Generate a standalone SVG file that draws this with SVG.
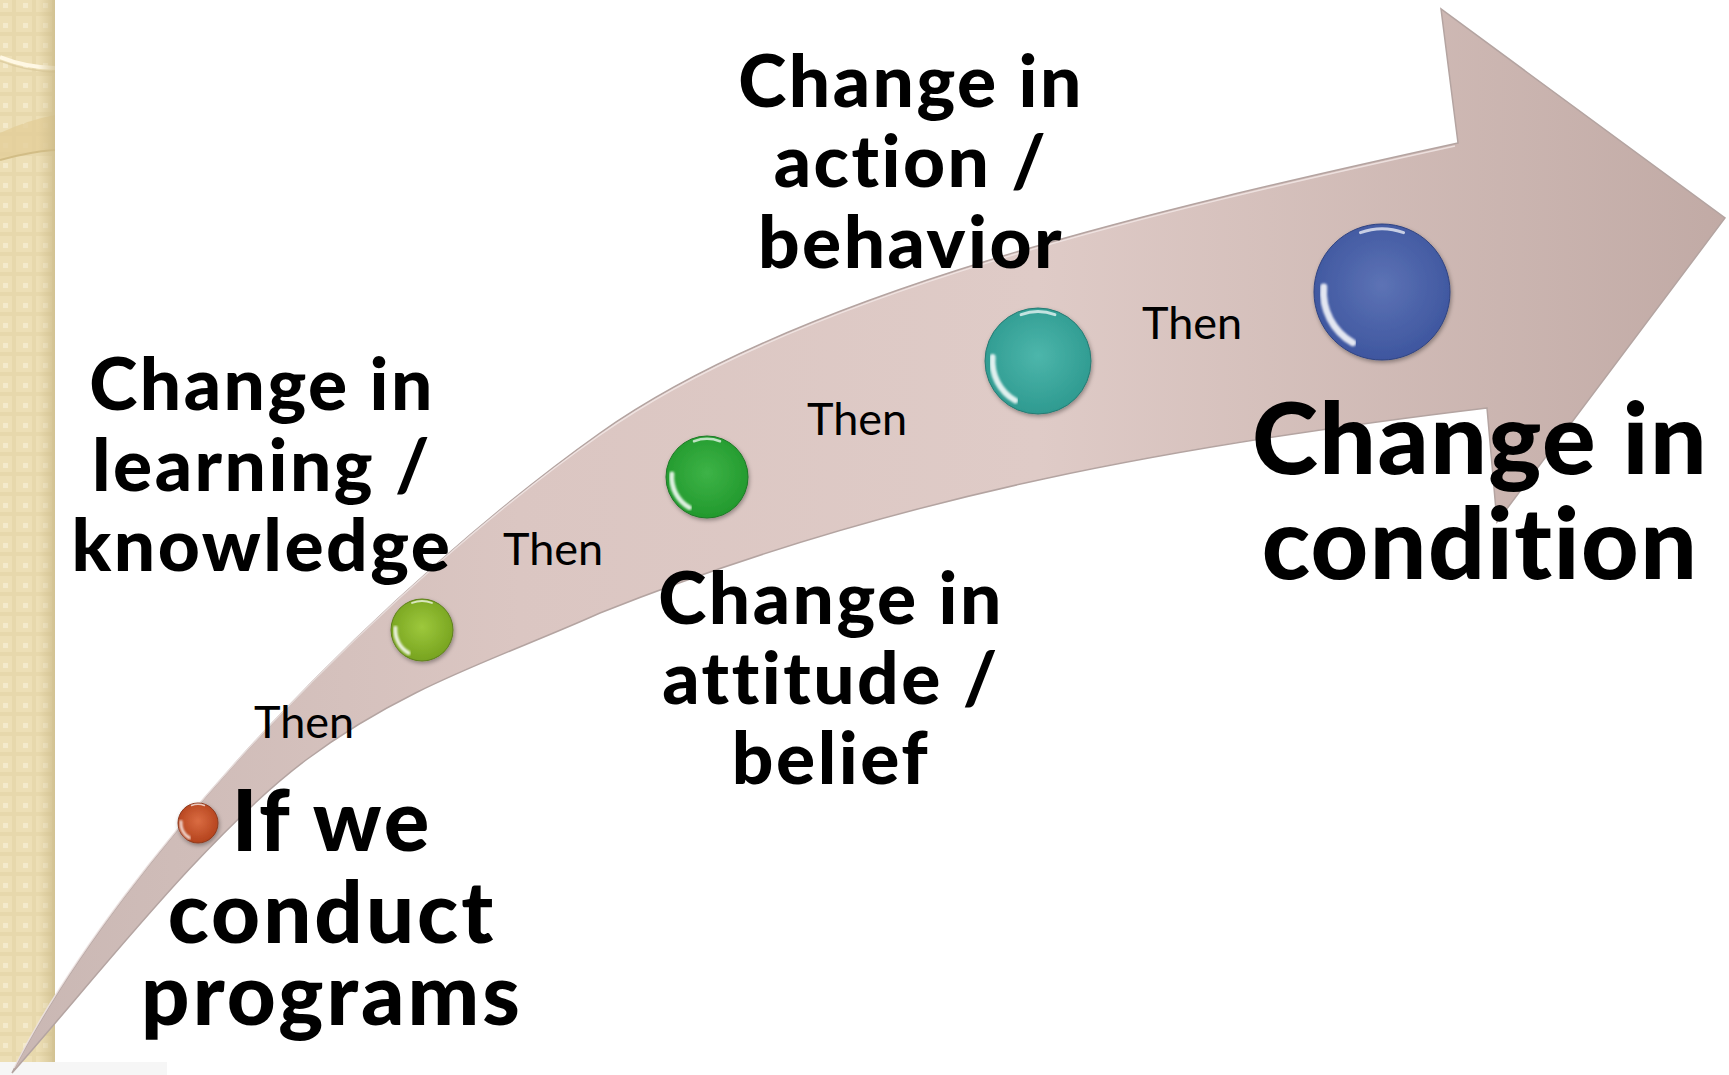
<svg xmlns="http://www.w3.org/2000/svg" width="1729" height="1075" viewBox="0 0 1729 1075">
<style>
.big{font-family:Lato,"Liberation Sans",sans-serif;font-weight:900;fill:#000;text-anchor:middle;font-variant-ligatures:none;font-feature-settings:"liga" 0,"clig" 0}
.then{font-family:Lato,"Liberation Sans",sans-serif;font-weight:400;fill:#000;font-size:45px;font-variant-ligatures:none}
.gloss{fill:none;stroke:#fff;stroke-linecap:round}
</style>
<defs>
<pattern id="plaid" width="20" height="20" patternUnits="userSpaceOnUse">
<rect width="20" height="20" fill="#EDDFB6"/>
<rect x="12" y="0" width="4" height="20" fill="#E7D8AC"/>
<rect x="0" y="12" width="20" height="4" fill="#E7D8AC"/>
<rect x="3" y="3" width="5" height="5" fill="#F4EACB"/>
</pattern>
<linearGradient id="stripEdge" x1="0" y1="0" x2="1" y2="0">
<stop offset="0" stop-color="#CDBB8A" stop-opacity="0"/>
<stop offset="1" stop-color="#C9B887" stop-opacity="0.7"/>
</linearGradient>
<linearGradient id="arrowFill" x1="0" y1="0" x2="1729" y2="0" gradientUnits="userSpaceOnUse">
<stop offset="0" stop-color="#C9B7B3"/>
<stop offset="0.3" stop-color="#DBC6C2"/>
<stop offset="0.6" stop-color="#DFCBC7"/>
<stop offset="1" stop-color="#C1AAA5"/>
</linearGradient>
<radialGradient id="gOrange" cx="0.5" cy="0.45" r="0.55"><stop offset="0" stop-color="#DA6C42"/><stop offset="1" stop-color="#B3421C"/></radialGradient>
<radialGradient id="gLime" cx="0.5" cy="0.45" r="0.55"><stop offset="0" stop-color="#9DC83C"/><stop offset="1" stop-color="#77A31F"/></radialGradient>
<radialGradient id="gGreen" cx="0.5" cy="0.45" r="0.55"><stop offset="0" stop-color="#3DB347"/><stop offset="1" stop-color="#22992D"/></radialGradient>
<radialGradient id="gTeal" cx="0.5" cy="0.45" r="0.55"><stop offset="0" stop-color="#4DB6AB"/><stop offset="1" stop-color="#2E9A90"/></radialGradient>
<radialGradient id="gBlue" cx="0.5" cy="0.45" r="0.55"><stop offset="0" stop-color="#5D73B5"/><stop offset="1" stop-color="#3E569F"/></radialGradient>
<filter id="shadow" x="-20%" y="-20%" width="140%" height="150%">
<feDropShadow dx="1" dy="2" stdDeviation="2" flood-color="#000" flood-opacity="0.35"/>
</filter>
<filter id="soft"><feGaussianBlur stdDeviation="0.8"/></filter>
</defs>

<g id="background">
<rect x="0" y="0" width="1729" height="1075" fill="#FFFFFF"/>
<rect x="0" y="1062" width="167" height="13" fill="#F6F6F6"/>
<rect x="0" y="0" width="55" height="1062" fill="url(#plaid)"/>
<path d="M0,133 Q28,120 55,115 L55,150 Q28,152 0,160 Z" fill="#E3CE9A" opacity="0.8"/>
<path d="M0,160 Q28,152 55,150" fill="none" stroke="#D2BD86" stroke-width="2"/>
<path d="M0,57 Q25,67 55,68" fill="none" stroke="#FFF8E4" stroke-width="4"/>
<path d="M0,61 Q25,71 55,72" fill="none" stroke="#D8C79A" stroke-width="1.5" opacity="0.7"/>
<rect x="38" y="0" width="17" height="1062" fill="url(#stripEdge)"/>
</g>

<g id="connectors">
<path id="arrow" d="M12,1073 C125,848 400,575 600,433 C800,291 1158,209 1458,143 L1441,9 L1725,218 L1497,522 L1487,408 C1187,444 900,493 600,613 C500,658 406,685 306,760 C206,835 92,983 12,1073 Z" fill="url(#arrowFill)" stroke="#B4A4A1" stroke-width="1.5" stroke-linejoin="miter"/>
<path d="M14,1068 C125,848 400,575 600,435 C800,293 1158,211 1455,146" fill="none" stroke="#F3E9E7" stroke-width="1.5" opacity="0.8"/>
<text class="then" x="254" y="738">Then</text>
<text class="then" x="503" y="565">Then</text>
<text class="then" x="807" y="435">Then</text>
<text class="then" x="1142" y="339">Then</text>
</g>

<g id="node-programs">
<g filter="url(#shadow)"><circle cx="198" cy="823" r="20" fill="url(#gOrange)" stroke="#8E3B20" stroke-width="1"/></g>
<path class="gloss" d="M180.9,821.5 A17.2,17.2 0 0 0 189.4,837.9" stroke-width="3" opacity="0.85" filter="url(#soft)"/>
<path class="gloss" d="M191.6,805.5 A18.6,18.6 0 0 1 204.4,805.5" stroke-width="1.5" opacity="0.7"/>
<text class="big" font-size="85" letter-spacing="3"><tspan x="332" y="851">If we</tspan><tspan x="332" y="943">conduct</tspan><tspan x="332" y="1025">programs</tspan></text>
</g>

<g id="node-learning">
<g filter="url(#shadow)"><circle cx="422" cy="630" r="31" fill="url(#gLime)" stroke="#5E801C" stroke-width="1"/></g>
<path class="gloss" d="M395.4,627.7 A26.7,26.7 0 0 0 408.7,653.1" stroke-width="4" opacity="0.85" filter="url(#soft)"/>
<path class="gloss" d="M412.1,602.9 A28.8,28.8 0 0 1 431.9,602.9" stroke-width="2" opacity="0.7"/>
<text class="big" font-size="73" letter-spacing="2.5"><tspan x="262" y="410">Change in</tspan><tspan x="262" y="491">learning /</tspan><tspan x="262" y="571">knowledge</tspan></text>
</g>

<g id="node-attitude">
<g filter="url(#shadow)"><circle cx="707" cy="477" r="41" fill="url(#gGreen)" stroke="#1F7A27" stroke-width="1"/></g>
<path class="gloss" d="M671.8,473.9 A35.3,35.3 0 0 0 689.4,507.6" stroke-width="5" opacity="0.85" filter="url(#soft)"/>
<path class="gloss" d="M694,441.2 A38.1,38.1 0 0 1 720,441.2" stroke-width="2.5" opacity="0.7"/>
<text class="big" font-size="73" letter-spacing="2.5"><tspan x="831" y="624">Change in</tspan><tspan x="831" y="704">attitude /</tspan><tspan x="831" y="784">belief</tspan></text>
</g>

<g id="node-action">
<g filter="url(#shadow)"><circle cx="1038" cy="361" r="53" fill="url(#gTeal)" stroke="#277B73" stroke-width="1"/></g>
<path class="gloss" d="M992.6,357 A45.6,45.6 0 0 0 1015.2,400.5" stroke-width="6" opacity="0.85" filter="url(#soft)"/>
<path class="gloss" d="M1021.1,314.7 A49.3,49.3 0 0 1 1054.9,314.7" stroke-width="3" opacity="0.7"/>
<text class="big" font-size="73" letter-spacing="2.5"><tspan x="911" y="107">Change in</tspan><tspan x="911" y="187">action /</tspan><tspan x="911" y="268">behavior</tspan></text>
</g>

<g id="node-condition">
<g filter="url(#shadow)"><circle cx="1382" cy="292" r="68" fill="url(#gBlue)" stroke="#2F4381" stroke-width="1"/></g>
<path class="gloss" d="M1323.7,286.9 A58.5,58.5 0 0 0 1352.8,342.7" stroke-width="7" opacity="0.85" filter="url(#soft)"/>
<path class="gloss" d="M1360.4,232.6 A63.2,63.2 0 0 1 1403.6,232.6" stroke-width="3" opacity="0.7"/>
<text class="big" font-size="100" letter-spacing="1.5"><tspan x="1480" y="474">Change in</tspan><tspan x="1480" y="579">condition</tspan></text>
</g>
</svg>
